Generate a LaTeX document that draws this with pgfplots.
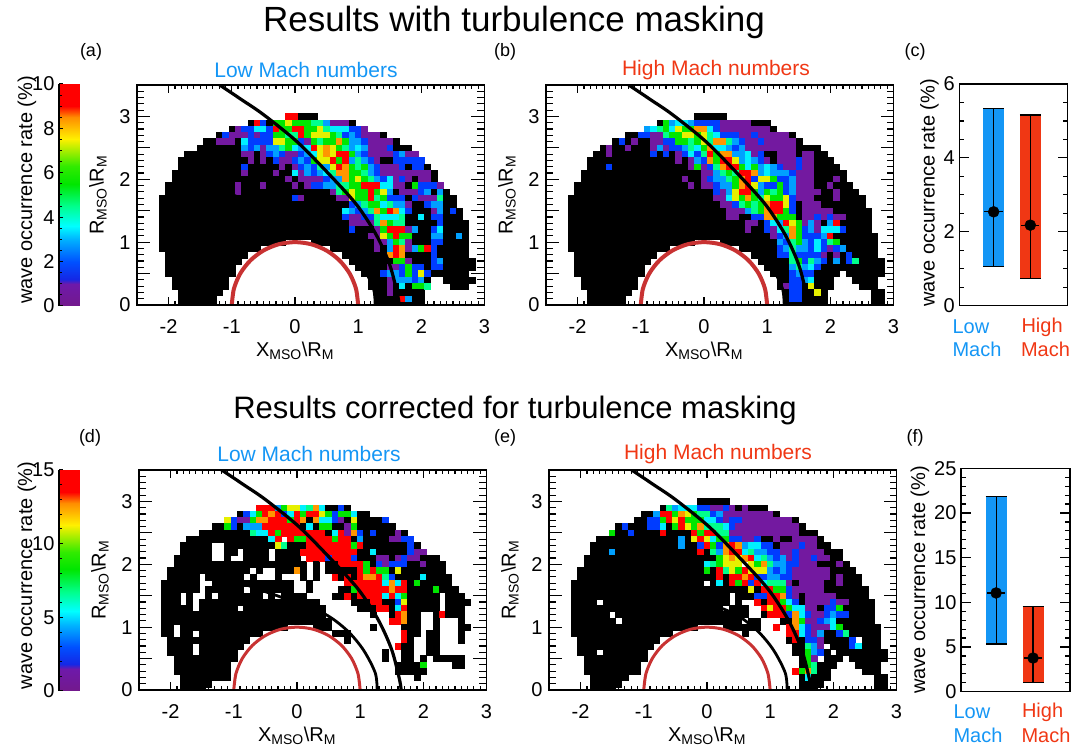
\documentclass[border=0pt]{standalone}
\usepackage{pgfplots}
\pgfplotsset{compat=1.18}
\usepackage{pgfplotstable}
\usepackage{fontspec}
\setmainfont{Liberation Sans}
\definecolor{lowc}{RGB}{20,150,245}
\definecolor{highc}{RGB}{240,55,20}
\definecolor{arcc}{RGB}{200,50,50}
\pgfplotstableread[header=false]{
3.0 nan nan nan nan nan nan nan nan nan nan  nan nan nan nan nan nan nan nan nan nan  nan nan 9 9 0 0 0 nan nan nan  nan nan nan nan nan nan nan nan nan nan  nan nan nan nan nan nan nan nan nan nan  nan nan nan
2.9 nan nan nan nan nan nan nan nan nan nan  nan nan nan nan nan nan 0 9 2 0  6 6 7 6 6 6 5 5 3 1  1 1 0 nan nan nan nan nan nan nan  nan nan nan nan nan nan nan nan nan nan  nan nan nan
2.8 nan nan nan nan nan nan nan nan nan nan  nan nan nan 0 1 2 2 4 4 2  9 6 6 9 9 6 6 7 5 4  4 4 2 2 1 nan nan nan nan nan  nan nan nan nan nan nan nan nan nan nan  nan nan nan
2.7 nan nan nan nan nan nan nan nan nan nan  nan 0 2 1 1 1 2 1 2 2  6 6 5 5 9 6 7 7 7 6  5 2 3 2 1 1 1 0 nan nan  nan nan nan nan nan nan nan nan nan nan  nan nan nan
2.6 nan nan nan nan nan nan nan nan nan 0  0 1 1 1 0 4 2 2 2 2  7 7 6 6 2 1 6 5 6 6  8 6 3 3 2 1 1 1 1 0  nan nan nan nan nan nan nan nan nan nan  nan nan nan
2.5 nan nan nan nan nan nan nan nan 0 0  0 0 0 0 0 3 2 3 1 3  3 5 6 4 3 4 9 7 8 7  6 5 3 4 3 1 1 1 2 0  0 0 nan nan nan nan nan nan nan nan  nan nan nan
2.4 nan nan nan nan nan nan 0 0 0 0  0 0 0 0 0 1 1 0 1 2  3 2 1 1 2 3 4 7 8 7  9 9 6 3 2 1 1 1 1 2  3 1 1 nan nan nan nan nan nan nan  nan nan nan
2.3 nan nan nan nan nan 0 0 0 0 0  0 0 0 0 0 0 1 0 1 0  2 1 1 2 3 2 6 7 7 9  6 9 3 5 3 2 1 0 0 2  2 2 2 2 nan nan nan nan nan nan  nan nan nan
2.2 nan nan nan nan nan 0 0 0 0 0  0 0 0 0 0 2 0 0 0 0  0 1 0 1 2 3 2 5 3 7  9 8 6 5 6 3 2 1 1 1  2 0 2 2 0 nan nan nan nan nan  nan nan nan
2.1 nan nan nan nan 0 0 0 0 0 0  0 0 0 0 0 1 0 0 0 0  1 0 0 4 1 3 2 3 4 5  8 8 6 6 5 3 2 1 1 1  1 1 1 1 1 0 nan nan nan nan  nan nan nan
2.0 nan nan nan nan 0 0 0 0 0 0  0 0 0 0 0 0 0 0 0 0  0 0 1 0 1 1 1 1 2 3  3 8 6 7 6 5 3 2 4 1  2 1 0 1 1 0 nan nan nan nan  nan nan nan
1.9 nan nan nan 0 0 0 0 0 0 0  0 0 0 0 1 0 0 0 1 0  0 0 0 1 0 1 2 2 3 3  5 5 6 6 9 9 9 4 4 1  1 0 6 2 2 2 1 nan nan nan  nan nan nan
1.8 nan nan nan 0 0 0 0 0 0 0  0 0 0 0 1 0 0 0 0 0  0 0 0 0 0 0 0 0 0 1  5 6 7 6 6 9 6 7 3 0  1 1 1 2 3 0 3 0 nan nan  nan nan nan
1.7 nan nan 0 0 0 0 0 0 0 0  0 0 0 0 0 0 0 0 0 0  0 0 0 2 1 0 0 0 0 0  1 1 7 6 6 9 5 6 2 2  2 0 2 1 1 1 5 0 0 nan  nan nan nan
1.6 nan nan 0 0 0 0 0 0 0 0  0 0 0 0 0 0 0 0 0 0  0 0 0 0 0 0 0 0 0 0  0 0 2 3 5 6 6 4 5 3  3 1 0 0 2 3 3 0 0 nan  nan nan nan
1.5 nan nan 0 0 0 0 0 0 0 0  0 0 0 0 0 0 0 0 0 0  0 0 0 0 0 0 0 0 0 0  0 4 3 2 3 5 8 6 9 8  4 2 0 0 0 1 3 0 2 0  nan nan nan
1.4 nan nan 0 0 0 0 0 0 0 0  0 0 0 0 0 0 0 0 0 0  0 0 0 0 0 0 0 0 0 0  0 2 1 1 2 2 5 4 4 4  5 0 0 4 0 2 2 0 0 0  nan nan nan
1.3 nan nan 0 0 0 0 0 0 0 0  0 0 0 0 0 0 0 0 0 0  0 0 0 0 0 0 0 0 0 0  0 0 1 1 1 1 5 8 6 5  5 0 0 0 0 0 2 0 0 0  0 nan nan
1.2 nan nan 0 0 0 0 0 0 0 0  0 0 0 0 0 0 0 0 0 0  0 0 0 0 0 0 0 0 0 0  0 0 2 0 0 0 1 6 9 9  9 1 3 0 0 2 4 0 0 0  0 nan nan
1.1 nan nan 0 0 0 0 0 0 0 0  0 0 0 0 0 0 0 0 0 0  0 0 0 0 0 0 0 0 0 0  0 0 0 0 0 1 1 7 6 9  6 6 0 0 0 3 3 0 0 3  0 nan nan
1.0 nan nan 0 0 0 0 0 0 0 0  0 0 0 0 0 0 0 0 0 0  0 0 nan nan nan nan 0 0 0 0  0 0 0 0 0 0 1 1 3 6  5 1 0 0 0 2 2 0 0 0  0 nan nan
0.9 nan nan 0 0 0 0 0 0 0 0  0 0 0 0 0 0 0 0 nan nan  nan nan nan nan nan nan nan nan nan 0  0 0 0 0 0 0 1 0 3 9  8 1 3 6 9 2 0 0 0 0  0 nan nan
0.8 nan nan nan 0 0 0 0 0 0 0  0 0 0 0 0 0 nan nan nan nan  nan nan nan nan nan nan nan nan nan nan  nan 0 0 0 0 0 0 0 8 9  8 0 0 0 0 2 0 0 0 0  0 nan nan
0.7 nan nan nan 0 0 0 0 0 0 0  0 0 0 0 0 nan nan nan nan nan  nan nan nan nan nan nan nan nan nan nan  nan nan 0 0 0 0 0 0 0 6  6 1 0 0 0 2 3 0 0 0  0 0 nan
0.6 nan nan nan 0 0 0 0 0 0 0  0 0 0 0 nan nan nan nan nan nan  nan nan nan nan nan nan nan nan nan nan  nan nan nan 0 0 0 0 0 1 1  2 6 2 2 0 2 2 0 0 0  0 0 nan
0.5 nan nan nan 0 0 0 0 0 0 0  0 0 0 0 nan nan nan nan nan nan  nan nan nan nan nan nan nan nan nan nan  nan nan nan nan 0 0 0 2 3 3  2 6 2 7 2 0 0 0 0 0  0 nan nan
0.4 nan nan nan nan 0 0 0 0 0 0  0 0 0 nan nan nan nan nan nan nan  nan nan nan nan nan nan nan nan nan nan  nan nan nan nan nan 0 0 0 1 3  3 3 2 3 0 nan nan 0 0 0  0 0 nan
0.3 nan nan nan nan 0 0 0 0 0 0  0 0 0 nan nan nan nan nan nan nan  nan nan nan nan nan nan nan nan nan nan  nan nan nan nan nan 0 0 0 1 0  4 0 6 6 5 nan nan nan 0 0  0 nan nan
0.2 nan nan nan nan nan 0 0 0 0 0  0 0 nan nan nan nan nan nan nan nan  nan nan nan nan nan nan nan nan nan nan  nan nan nan nan nan nan 0 0 1 0  0 0 0 0 nan nan nan nan nan nan  nan nan nan
0.1 nan nan nan nan nan 0 0 0 0 0  0 nan nan nan nan nan nan nan nan nan  nan nan nan nan nan nan nan nan nan nan  nan nan nan nan nan nan 0 0 0 0  9 3 0 0 nan nan nan nan nan nan  nan nan nan
0.0 nan nan nan nan nan 0 0 0 0 0  0 nan nan nan nan nan nan nan nan nan  nan nan nan nan nan nan nan nan nan nan  nan nan nan nan nan nan 0 0 0 0  0 0 0 0 nan nan nan nan nan nan  nan nan nan
}\tblA
\pgfplotstableread[header=false]{
3.0 nan nan nan nan nan nan nan nan nan nan  nan nan nan nan nan nan nan nan nan nan  nan nan 0 0 0 0 0 nan nan nan  nan nan nan nan nan nan nan nan nan nan  nan nan nan nan nan nan nan nan nan nan  nan nan nan
2.9 nan nan nan nan nan nan nan nan nan nan  nan nan nan nan nan nan 0 6 3 4  4 3 2 2 2 2 1 1 1 1  1 0 0 0 nan nan nan nan nan nan  nan nan nan nan nan nan nan nan nan nan  nan nan nan
2.8 nan nan nan nan nan nan nan nan nan nan  nan nan nan nan 3 4 5 6 4 7  6 6 8 8 4 2 1 1 1 1  1 1 1 1 0 nan nan nan nan nan  nan nan nan nan nan nan nan nan nan nan  nan nan nan
2.7 nan nan nan nan nan nan nan nan nan nan  nan 0 0 2 2 1 1 5 6 6  7 7 6 7 5 4 2 2 2 1  1 2 1 1 1 1 1 0 nan nan  nan nan nan nan nan nan nan nan nan nan  nan nan nan
2.6 nan nan nan nan nan nan nan nan nan 0  2 0 1 0 0 1 1 2 2 6  6 5 6 7 5 8 8 5 3 2  1 1 2 1 1 1 1 1 0 nan  nan nan nan nan nan nan nan nan nan nan  nan nan nan
2.5 nan nan nan nan nan nan nan 0 1 0  0 1 0 0 0 1 3 1 2 2  3 5 4 6 8 4 4 3 2 3  1 1 1 1 1 1 1 1 0 0  0 0 nan nan nan nan nan nan nan nan  nan nan nan
2.4 nan nan nan nan nan nan 0 0 1 0  0 0 0 0 0 2 0 2 0 1  2 4 2 5 9 6 8 8 3 3  4 1 2 0 0 1 1 1 0 1  1 0 0 nan nan nan nan nan nan nan  nan nan nan
2.3 nan nan nan nan nan 0 0 0 0 0  0 0 0 0 0 0 0 0 0 1  0 1 3 2 8 6 9 9 7 3  4 3 2 1 0 1 1 1 2 1  1 0 0 0 nan nan nan nan nan nan  nan nan nan
2.2 nan nan nan nan nan 0 0 0 2 0  0 0 0 0 0 0 0 0 0 0  0 1 6 1 2 5 8 9 9 6  4 6 3 4 3 2 1 1 2 1  1 0 0 0 0 nan nan nan nan nan  nan nan nan
2.1 nan nan nan nan 0 0 0 0 0 0  0 0 0 0 0 0 0 0 0 0  0 0 0 1 1 3 5 6 5 9  9 8 3 4 3 3 3 2 1 1  1 0 0 0 0 0 nan nan nan nan  nan nan nan
2.0 nan nan nan nan 0 0 0 0 0 0  0 0 0 0 0 0 0 0 0 0  1 0 0 1 2 3 3 5 6 8  9 2 7 7 6 2 2 3 1 1  1 0 0 0 1 0 nan nan nan nan  nan nan nan
1.9 nan nan nan 0 0 0 0 0 0 0  0 0 0 0 0 0 0 0 0 0  0 1 0 1 1 2 3 3 6 8  9 7 3 2 2 6 2 3 1 1  1 0 0 1 0 0 0 nan nan nan  nan nan nan
1.8 nan nan nan 0 0 0 0 0 0 0  0 0 0 0 0 0 0 0 0 0  0 0 0 0 0 2 1 3 7 9  9 6 3 6 5 6 2 3 1 1  1 1 0 0 1 0 0 0 nan nan  nan nan nan
1.7 nan nan 0 0 0 0 0 0 0 0  0 0 0 0 0 0 0 0 0 0  0 0 0 0 0 1 1 4 7 6  8 6 5 7 6 6 7 2 1 1  1 0 0 0 1 0 0 0 0 nan  nan nan nan
1.6 nan nan 0 0 0 0 0 0 0 0  0 0 0 0 0 0 0 0 0 0  0 0 0 0 0 0 1 1 2 5  6 5 6 8 9 9 7 2 0 1  1 1 0 0 0 0 0 0 0 nan  nan nan nan
1.5 nan nan 0 0 0 0 0 0 0 0  0 0 0 0 0 0 0 0 0 0  0 0 0 0 0 0 0 1 1 1  3 5 6 8 9 9 6 2 0 1  1 1 1 1 0 0 0 0 0 0  nan nan nan
1.4 nan nan 0 0 0 0 0 0 0 0  0 0 0 0 0 0 0 0 0 0  0 0 0 0 0 0 0 1 1 0  0 2 2 8 8 6 6 6 0 1  1 2 1 2 1 1 0 0 0 0  nan nan nan
1.3 nan nan 0 0 0 0 0 0 0 0  0 0 0 0 0 0 0 0 0 0  0 0 0 0 0 0 0 0 0 0  1 1 0 2 4 3 9 7 6 1  3 1 0 3 9 0 0 0 0 0  nan nan nan
1.2 nan nan 0 0 0 0 0 0 0 0  0 0 0 0 0 0 0 0 0 0  0 0 0 0 0 0 0 0 0 0  1 0 0 2 1 4 5 8 6 2  3 1 4 4 4 2 0 0 0 0  nan nan nan
1.1 nan nan 0 0 0 0 0 0 0 0  0 0 0 0 0 0 0 0 0 0  0 0 0 0 0 0 0 0 0 0  0 0 0 0 1 2 3 8 6 2  2 2 3 9 0 0 0 0 0 0  0 nan nan
1.0 nan nan 0 0 0 0 0 0 0 0  0 0 0 0 0 0 0 0 0 0  0 0 nan nan nan nan 0 0 0 0  0 0 0 0 0 3 2 5 6 3  2 4 2 5 6 0 0 0 0 0  0 nan nan
0.9 nan nan 0 0 0 0 0 0 0 0  0 0 0 0 0 0 0 0 nan nan  nan nan nan nan nan nan nan nan nan 0  0 0 0 0 0 2 3 5 3 3  2 4 2 1 2 3 0 0 0 0  0 nan nan
0.8 nan nan nan 0 0 0 0 0 0 0  0 0 0 0 0 0 nan nan nan nan  nan nan nan nan nan nan nan nan nan nan  nan 0 0 0 0 2 2 5 2 2  2 2 1 0 1 0 2 0 0 0  0 nan nan
0.7 nan nan nan 0 0 0 0 0 0 0  0 0 0 0 0 nan nan nan nan nan  nan nan nan nan nan nan nan nan nan nan  nan nan 0 0 0 0 0 5 6 2  5 3 2 0 3 0 2 5 0 0  0 0 nan
0.6 nan nan nan 0 0 0 0 0 0 0  0 0 0 0 nan nan nan nan nan nan  nan nan nan nan nan nan nan nan nan nan  nan nan nan 0 0 0 0 3 5 3  4 2 0 0 0 0 0 0 0 0  0 0 nan
0.5 nan nan nan 0 0 0 0 0 0 0  0 0 0 0 nan nan nan nan nan nan  nan nan nan nan nan nan nan nan nan nan  nan nan nan nan 0 0 0 2 3 2  2 0 0 0 0 nan 0 0 0 0  0 0 nan
0.4 nan nan nan nan 0 0 0 0 0 0  0 0 0 nan nan nan nan nan nan nan  nan nan nan nan nan nan nan nan nan nan  nan nan nan nan nan 0 0 2 2 3  4 0 0 0 nan nan nan 0 0 0  0 nan nan
0.3 nan nan nan nan 0 0 0 0 0 0  0 0 0 nan nan nan nan nan nan nan  nan nan nan nan nan nan nan nan nan nan  nan nan nan nan nan 0 1 2 2 0  7 0 0 0 nan nan nan nan 0 0  0 nan nan
0.2 nan nan nan nan nan 0 0 0 0 0  0 0 nan nan nan nan nan nan nan nan  nan nan nan nan nan nan nan nan nan nan  nan nan nan nan nan nan 0 2 2 0  0 7 0 nan nan nan nan nan nan nan  0 0 nan
0.1 nan nan nan nan nan 0 0 0 0 0  0 nan nan nan nan nan nan nan nan nan  nan nan nan nan nan nan nan nan nan nan  nan nan nan nan nan nan 0 2 2 0  0 0 0 nan nan nan nan nan nan nan  0 0 nan
0.0 nan nan nan nan nan 0 0 0 0 0  0 nan nan nan nan nan nan nan nan nan  nan nan nan nan nan nan nan nan nan nan  nan nan nan nan nan nan 0 0 0 0  0 0 0 nan nan nan nan nan nan nan  0 0 nan
}\tblB
\pgfplotstableread[header=false]{
3.0 nan nan nan nan nan nan nan nan nan nan  nan nan nan nan nan nan nan nan nan nan  nan nan nan nan nan nan nan nan nan nan  nan nan nan nan nan nan nan nan nan nan  nan nan nan nan nan nan nan nan nan nan  nan nan nan
2.9 nan nan nan nan nan nan nan nan nan nan  nan nan nan nan nan nan nan 9 9 9  3 6 7 7 4 5 8 4 0 0  2 0 nan nan nan nan nan nan nan nan  nan nan nan nan nan nan nan nan nan nan  nan nan nan
2.8 nan nan nan nan nan nan nan nan nan nan  nan nan nan nan 0 2 4 6 9 8  9 2 4 9 6 9 9 7 6 2  6 6 4 0 0 nan nan nan nan nan  nan nan nan nan nan nan nan nan nan nan  nan nan nan
2.7 nan nan nan nan nan nan nan nan nan nan  nan nan 7 2 1 1 6 8 8 9  9 9 6 9 8 0 8 4 4 2  1 0 7 0 0 0 0 2 nan nan  nan nan nan nan nan nan nan nan nan nan  nan nan nan
2.6 nan nan nan nan nan nan nan nan nan nan  0 0 6 2 0 3 3 3 9 9  9 9 9 9 0 4 0 6 6 0  0 1 6 0 0 0 0 0 0 nan  nan nan nan nan nan nan nan nan nan nan  nan nan nan
2.5 nan nan nan nan nan nan nan nan 0 0  0 0 0 0 0 0 5 4 4 9  6 9 9 9 9 9 9 9 0 4  9 1 8 2 0 2 0 0 0 1  0 nan nan nan nan nan nan nan nan nan  nan nan nan
2.4 nan nan nan nan nan nan 0 0 0 0  0 0 0 0 0 0 0 0 0 4  9 nan 9 6 6 9 9 9 9 6  9 9 0 3 0 0 0 0 1 1  2 2 nan nan nan nan nan nan nan nan  nan nan nan
2.3 nan nan nan nan nan 0 0 0 0 0  nan nan 0 0 0 0 0 0 0 0  7 5 0 0 0 9 9 9 9 9  9 9 6 9 0 0 0 0 0 0  0 2 0 nan nan nan nan nan nan nan  nan nan nan
2.2 nan nan nan nan nan 0 0 0 0 0  nan nan 0 0 nan 0 0 0 0 nan  0 0 0 0 9 9 9 9 9 9  9 9 9 0 0 4 0 0 0 0  0 2 1 1 nan nan nan nan nan nan  nan nan nan
2.1 nan nan nan nan 0 0 0 0 0 0  nan nan 0 nan nan 0 0 0 0 nan  0 0 0 0 nan 9 9 9 2 9  9 9 2 0 0 0 1 1 0 1  2 1 1 0 0 0 nan nan nan nan  nan nan nan
2.0 nan nan nan nan 0 0 0 0 0 0  0 0 0 0 0 0 0 0 0 0  0 0 0 0 0 nan 0 nan 0 0  9 9 9 9 6 0 2 1 2 2  2 0 0 1 0 0 0 nan nan nan  nan nan nan
1.9 nan nan nan 0 0 0 0 0 0 0  0 0 0 0 0 0 nan 0 nan nan  0 0 0 8 0 nan 0 nan 0 0  0 0 0 9 6 9 6 6 0 7  0 0 0 0 0 0 0 nan nan nan  nan nan nan
1.8 nan nan nan 0 0 0 0 0 nan 0  0 0 0 0 0 nan 0 nan nan nan  0 nan nan nan 0 nan 0 nan nan 9  0 9 0 9 8 8 9 5 2 0  0 0 0 4 0 0 0 0 nan nan  nan nan nan
1.7 nan nan 0 0 0 0 0 0 nan nan  0 0 0 0 0 0 0 0 0 0  0 0 0 nan nan 0 nan nan nan nan  nan 9 9 9 9 9 9 4 8 4  9 0 6 0 0 0 0 0 nan nan  nan nan nan
1.6 nan nan 0 0 0 0 0 0 nan 0  0 0 0 0 0 nan 0 0 0 0  0 0 0 nan nan 0 nan nan nan nan  0 0 6 9 9 9 9 9 8 9  9 0 0 0 0 6 0 0 0 nan  nan nan nan
1.5 nan nan 0 0 0 nan 0 nan nan 0  nan 0 0 0 0 0 0 0 nan 0  nan 0 0 0 0 nan nan nan nan 0  0 9 0 9 9 9 9 4 9 4  6 0 0 0 0 0 nan 0 0 0  nan nan nan
1.4 nan nan 0 0 0 nan 0 nan 0 0  0 0 0 0 0 0 0 0 0 0  0 0 0 0 0 0 0 nan nan nan  nan nan 0 0 0 9 9 0 0 2  7 0 0 0 0 0 nan 0 0 0  0 nan nan
1.3 nan nan 0 0 0 0 0 nan 0 0  0 0 0 0 nan 0 0 0 0 0  0 0 0 0 0 0 0 0 nan nan  nan nan nan 0 0 0 9 9 0 4  9 0 0 0 0 0 nan 0 0 0  nan nan nan
1.2 nan nan 0 0 0 0 0 0 0 0  0 0 0 0 0 0 0 0 0 0  0 0 0 0 0 0 0 0 nan nan  nan nan nan nan nan 0 nan nan 0 9  8 0 0 nan nan 0 9 0 0 0  nan nan nan
1.1 nan nan 0 0 0 0 0 0 0 0  0 0 0 0 0 0 0 0 0 0  0 0 0 0 0 0 0 0 0 nan  nan nan nan nan nan nan nan nan 9 9  8 0 0 nan nan 0 nan nan nan 0  nan nan nan
1.0 nan nan 0 0 nan 0 0 0 0 0  0 0 0 0 0 0 0 0 0 0  0 0 nan nan nan nan 0 0 0 nan  nan nan nan nan nan 0 nan nan nan nan  0 0 0 nan nan 0 nan nan nan 0  0 nan nan
0.9 nan nan 0 0 nan 0 0 nan 0 0  0 0 0 0 0 0 0 0 nan nan  nan nan nan nan nan nan nan nan nan 0  0 0 nan nan nan nan nan nan nan nan  9 0 0 nan 0 0 nan nan nan 0  nan nan nan
0.8 nan nan nan 0 0 0 0 0 0 0  0 0 0 0 0 0 nan nan nan nan  nan nan nan nan nan nan nan nan nan nan  nan 0 nan nan nan nan nan nan nan nan  9 0 nan nan 0 0 nan nan nan 0  nan nan nan
0.7 nan nan nan 0 0 0 0 nan 0 0  0 0 0 0 0 nan nan nan nan nan  nan nan nan nan nan nan nan nan nan nan  nan nan nan nan nan nan nan nan nan 9  0 0 nan nan 0 0 nan nan nan nan  nan nan nan
0.6 nan nan nan 0 0 0 0 nan 0 0  0 0 0 0 nan nan nan nan nan nan  nan nan nan nan nan nan nan nan nan nan  nan nan nan nan nan nan nan 0 nan nan  0 0 nan nan 0 0 nan nan nan nan  nan nan nan
0.5 nan nan nan nan 0 0 0 0 0 0  0 0 0 0 nan nan nan nan nan nan  nan nan nan nan nan nan nan nan nan nan  nan nan nan nan nan nan nan 0 nan nan  0 0 nan 0 nan 0 0 0 0 0  nan nan nan
0.4 nan nan nan nan 0 0 0 0 0 0  0 0 0 nan nan nan nan nan nan nan  nan nan nan nan nan nan nan nan nan nan  nan nan nan nan nan nan nan nan nan 0  0 0 0 6 nan nan nan nan 0 0  nan nan nan
0.3 nan nan nan nan 0 0 0 0 0 0  0 0 0 nan nan nan nan nan nan nan  nan nan nan nan nan nan nan nan nan nan  nan nan nan nan nan nan nan nan nan 0  0 0 0 0 nan nan nan nan nan nan  nan nan nan
0.2 nan nan nan nan nan 0 0 0 0 0  0 0 0 nan nan nan nan nan nan nan  nan nan nan nan nan nan nan nan nan nan  nan nan nan nan nan nan nan nan nan nan  nan nan 0 nan nan nan nan nan nan nan  nan nan nan
0.1 nan nan nan nan nan 0 0 0 0 0  nan nan nan nan nan nan nan nan nan nan  nan nan nan nan nan nan nan nan nan nan  nan nan nan nan nan nan nan nan nan nan  nan nan nan nan nan nan nan nan nan nan  nan nan nan
0.0 nan nan nan nan nan 0 0 0 0 nan  nan nan nan nan nan nan nan nan nan nan  nan nan nan nan nan nan nan nan nan nan  nan nan nan nan nan nan nan nan nan nan  nan nan nan nan nan nan nan nan nan nan  nan nan nan
}\tblD
\pgfplotstableread[header=false]{
3.0 nan nan nan nan nan nan nan nan nan nan  nan nan nan nan nan nan nan nan nan nan  nan nan 0 0 0 0 0 nan nan nan  nan nan nan nan nan nan nan nan nan nan  nan nan nan nan nan nan nan nan nan nan  nan nan nan
2.9 nan nan nan nan nan nan nan nan nan nan  nan nan nan nan nan nan 0 5 3 4  4 4 2 2 1 1 2 1 0 1  0 0 0 nan nan nan nan nan nan nan  nan nan nan nan nan nan nan nan nan nan  nan nan nan
2.8 nan nan nan nan nan nan nan nan nan nan  nan nan nan 0 0 3 9 9 6 8  7 6 5 5 2 3 1 1 1 1  1 1 1 1 0 nan nan nan nan nan  nan nan nan nan nan nan nan nan nan nan  nan nan nan
2.7 nan nan nan nan nan nan nan nan nan nan  nan nan 0 0 2 2 6 9 7 9  6 6 6 4 4 2 1 2 2 1  1 1 1 1 1 1 1 0 nan nan  nan nan nan nan nan nan nan nan nan nan  nan nan nan
2.6 nan nan nan nan nan nan nan nan nan 0  2 0 0 0 2 2 4 0 6 9  7 6 8 5 5 5 4 2 1 1  1 1 1 1 1 1 1 1 0 nan  nan nan nan nan nan nan nan nan nan nan  nan nan nan
2.5 nan nan nan nan nan nan nan nan 6 0  0 2 0 0 0 0 9 0 0 0  0 9 6 9 9 5 5 1 1 1  1 1 1 1 1 1 1 1 0 0  0 nan nan nan nan nan nan nan nan nan  nan nan nan
2.4 nan nan nan nan nan nan 0 0 0 0  0 0 0 0 0 0 0 0 0 3  0 7 9 7 4 6 6 2 2 1  1 2 0 0 1 0 0 1 1 1  1 0 nan nan nan nan nan nan nan nan  nan nan nan
2.3 nan nan nan nan nan 0 0 0 0 0  0 0 0 0 0 0 0 0 0 3  0 0 2 9 6 2 8 9 8 3  4 4 2 2 0 1 1 1 2 1  1 0 0 nan nan nan nan nan nan nan  nan nan nan
2.2 nan nan nan nan nan 0 0 0 3 0  0 0 0 0 0 0 0 0 0 0  0 0 9 0 5 3 8 9 9 4  5 3 3 2 2 1 1 2 1 1  1 1 0 0 0 nan nan nan nan nan  nan nan nan
2.1 nan nan nan nan 0 0 0 0 0 0  0 0 0 0 0 0 0 0 0 0  0 0 0 0 0 6 7 8 7 8  9 4 5 3 2 3 1 2 1 1  2 1 1 0 0 nan nan nan nan nan  nan nan nan
2.0 nan nan nan nan 0 0 0 0 0 0  0 0 0 0 0 0 0 0 0 0  0 0 0 4 5 6 7 7 7 nan  7 6 8 5 3 3 2 2 1 1  1 0 0 0 1 0 nan nan nan nan  nan nan nan
1.9 nan nan nan 0 0 0 0 0 0 0  0 0 0 0 0 0 0 0 0 0  0 0 0 6 0 9 5 7 6 9  7 7 7 3 2 3 2 1 1 1  1 1 1 0 0 0 0 nan nan nan  nan nan nan
1.8 nan nan nan 0 0 0 0 0 0 0  0 0 0 0 0 0 0 0 0 0  0 0 0 0 0 9 0 9 9 8  9 2 2 3 3 2 2 1 1 1  1 1 1 0 1 0 0 0 nan nan  nan nan nan
1.7 nan nan 0 0 0 0 0 0 0 0  0 0 0 0 0 0 0 0 0 0  0 0 0 nan 0 4 0 9 6 9  2 9 4 5 5 5 1 0 1 1  1 1 0 0 1 0 0 0 nan nan  nan nan nan
1.6 nan nan 0 0 0 0 0 0 0 0  0 0 0 0 0 0 0 0 0 0  0 0 0 0 0 0 0 0 0 0  7 0 9 9 6 6 2 1 1 1  1 1 0 0 0 0 0 0 0 nan  nan nan nan
1.5 nan nan 0 0 0 0 0 0 0 0  0 0 0 0 0 0 0 0 0 0  0 0 0 0 0 0 0 nan 0 0  0 2 2 9 9 8 2 1 0 1  1 1 1 1 0 0 0 0 0 nan  nan nan nan
1.4 nan nan 0 0 0 0 nan 0 0 0  0 0 0 0 0 0 0 0 0 0  0 0 0 0 0 0 0 nan 0 nan  nan 9 0 9 9 6 4 2 0 1  1 1 1 2 1 1 0 0 0 0  nan nan nan
1.3 nan nan 0 0 0 0 0 0 0 0  0 0 0 0 0 0 0 0 0 0  0 0 0 0 0 0 nan 0 0 0  nan nan 9 7 9 9 6 4 4 1  1 0 2 2 6 0 0 0 0 0  nan nan nan
1.2 nan nan 0 0 0 0 0 0 nan 0  0 0 0 0 0 0 0 0 0 0  0 0 0 0 0 0 0 0 0 0  nan nan 0 9 9 9 2 8 4 2  1 1 2 3 2 2 0 0 0 0  nan nan nan
1.1 nan nan 0 0 0 0 0 0 0 nan  0 0 0 0 0 0 0 0 0 0  0 0 0 0 0 0 0 0 0 nan  0 0 nan nan nan 0 0 8 6 1  1 2 3 4 0 0 0 0 0 0  nan nan nan
1.0 nan nan 0 0 0 0 0 0 0 0  0 0 0 0 0 0 0 0 0 0  0 0 nan nan nan nan 0 0 0 0  0 0 nan nan 9 nan 9 8 4 2  1 1 1 4 6 0 0 0 0 0  0 nan nan
0.9 nan nan 0 0 0 0 0 0 0 0  0 0 0 0 0 0 0 0 nan nan  nan nan nan nan nan nan nan nan nan 0  nan nan nan nan nan nan 9 9 4 2  1 3 0 0 2 5 0 0 0 0  0 nan nan
0.8 nan nan nan 0 0 0 0 0 0 0  0 0 0 0 0 0 nan nan nan nan  nan nan nan nan nan nan nan nan nan nan  nan nan nan nan nan nan 0 9 0 2  2 1 0 0 0 0 2 nan 0 0  0 nan nan
0.7 nan nan nan 0 0 0 0 0 0 0  0 0 0 0 0 nan nan nan nan nan  nan nan nan nan nan nan nan nan nan nan  nan nan nan nan nan nan nan 0 0 5  3 1 nan 0 0 0 2 4 0 0  0 nan nan
0.6 nan nan nan 0 0 0 nan 0 0 0  0 0 0 0 nan nan nan nan nan nan  nan nan nan nan nan nan nan nan nan nan  nan nan nan nan nan nan nan 0 0 6  3 2 0 nan 0 0 0 0 0 0  0 0 nan
0.5 nan nan nan nan 0 0 0 0 0 0  0 0 0 0 nan nan nan nan nan nan  nan nan nan nan nan nan nan nan nan nan  nan nan nan nan nan nan nan nan 0 6  1 nan 0 0 0 nan 0 0 0 0  0 0 nan
0.4 nan nan nan nan 0 0 0 0 0 0  0 0 0 nan nan nan nan nan nan nan  nan nan nan nan nan nan nan nan nan nan  nan nan nan nan nan nan nan nan 0 6  5 0 0 0 nan nan nan 0 0 0  0 nan nan
0.3 nan nan nan nan 0 0 0 0 0 0  0 0 0 nan nan nan nan nan nan nan  nan nan nan nan nan nan nan nan nan nan  nan nan nan nan nan nan nan 9 6 8  5 0 0 nan nan nan nan nan 0 0  0 nan nan
0.2 nan nan nan nan nan 0 0 0 0 0  0 nan nan nan nan nan nan nan nan nan  nan nan nan nan nan nan nan nan nan nan  nan nan nan nan nan nan nan nan 0 4  0 0 0 nan nan nan nan nan nan nan  0 0 nan
0.1 nan nan nan nan nan 0 0 0 0 0  nan nan nan nan nan nan nan nan nan nan  nan nan nan nan nan nan nan nan nan nan  nan nan nan nan nan nan nan nan 0 0  0 0 nan nan nan nan nan nan nan nan  0 0 nan
0.0 nan nan nan nan nan 0 0 0 0 nan  nan nan nan nan nan nan nan nan nan nan  nan nan nan nan nan nan nan nan nan nan  nan nan nan nan nan nan nan nan 0 0  0 nan nan nan nan nan nan nan nan nan  0 0 nan
}\tblE
\pgfplotstableread{
x y z
0 0 0
1 0 0
0 1 1
1 1 1
0 1.2 1.2
1 1.2 1.2
0 2 2
1 2 2
0 3 3
1 3 3
0 3.6 3.6
1 3.6 3.6
0 4.5 4.5
1 4.5 4.5
0 5.5 5.5
1 5.5 5.5
0 6.3 6.3
1 6.3 6.3
0 7.5 7.5
1 7.5 7.5
0 8.5 8.5
1 8.5 8.5
0 9 9
1 9 9
0 10 10
1 10 10
}\tblBar
\pgfplotsset{
 cellmap/.style={colormap={cells}{rgb255(0pt)=(0,0,0) rgb255(1pt)=(115,25,160) rgb255(2pt)=(0,60,255) rgb255(3pt)=(0,160,255) rgb255(4pt)=(0,240,255) rgb255(5pt)=(0,255,140) rgb255(6pt)=(0,230,0) rgb255(7pt)=(230,240,0) rgb255(8pt)=(255,150,0) rgb255(9pt)=(255,0,0)}},
 barmap/.style={colormap={bar}{rgb255(0pt)=(115,25,140) rgb255(10pt)=(110,25,170) rgb255(12pt)=(20,40,230) rgb255(20pt)=(0,80,255) rgb255(30pt)=(0,180,255) rgb255(36pt)=(0,255,255) rgb255(45pt)=(0,255,140) rgb255(55pt)=(0,230,0) rgb255(63pt)=(50,235,0) rgb255(75pt)=(255,240,0) rgb255(85pt)=(255,140,0) rgb255(90pt)=(255,0,0) rgb255(100pt)=(255,0,0)}},
 frame/.style={scale only axis, width=347.5pt, height=220pt, xmin=-2.5, xmax=3, ymin=0, ymax=3.5, anchor=south west,
   axis line style={line width=1.6pt}, tick style={line width=1.2pt,black}, tick align=inside,
   tick label style={font=\fontsize{20}{24}\selectfont}, xticklabel style={yshift=-11pt}, yticklabel style={xshift=-3pt}},
 barframe/.style={scale only axis, anchor=south west, axis line style={line width=1.2pt}, tick style={line width=1.2pt,black}, tick align=inside, xtick=\empty,
   /pgf/number format/assume math mode=true, tick label style={font=\fontsize{20}{24}\selectfont}, yticklabel style={xshift=-1pt}, major tick length=10pt, minor tick length=5pt},
 cbar/.style={barmap, scale only axis, width=20pt, anchor=south west, xmin=0,xmax=1, view={0}{90}, axis x line=none, axis y line*=left, axis line style={line width=1.2pt}, tick style={line width=1pt,black}, tick align=inside, major tick length=4pt, minor tick length=2.5pt, point meta min=0, point meta max=10, tick label style={font=\fontsize{20}{24}\selectfont}, /pgf/number format/assume math mode=true, yticklabel style={xshift=-1pt}},
}
\newcommand{\fs}[1]{\fontsize{#1}{#1}\selectfont}
\newcommand{\panel}[4]{% left, bottom (px from top), table, arc width
 \begin{axis}[frame, cellmap, at={(#1pt,{(749-#2)*1pt})}, point meta min=0, point meta max=9,
   xtick={-2,-1,0,1,2,3}, xticklabels={-2,-1,0,1,2,3}, minor x tick num=9, major tick length=8pt, minor tick length=4pt, ytick=\empty,
   clip marker paths=true, unbounded coords=discard]
 \pgfplotsinvokeforeach{1,...,53}{
  \addplot[scatter, only marks, mark=square*, mark size=3pt, scatter/use mapped color={draw=mapped color,fill=mapped color}, point meta=explicit, forget plot]
   table[x expr={-2.4+0.1*##1}, y expr={\thisrowno{##1}*0+\thisrowno{0}}, meta index=##1]{#3};
 }
 \addplot[arcc, line width=#4pt, smooth] coordinates {(-1,0)(-0.966,0.259)(-0.866,0.5)(-0.707,0.707)(-0.5,0.866)(-0.259,0.966)(0,1)(0.259,0.966)(0.5,0.866)(0.707,0.707)(0.866,0.5)(0.966,0.259)(1,0)};
 \addplot[black, line width=3.2pt, smooth] coordinates {(-1.22,3.52)(-0.85,3.27)(-0.5,3.03)(0.03,2.6)(0.55,2.07)(0.98,1.59)(1.29,1.11)(1.5,0.64)(1.625,0.16)(1.65,-0.02)};
 \addplot[black, line width=2.8pt, smooth] coordinates {(-1.6,2.08)(-1.32,1.91)(-0.79,1.67)(-0.26,1.48)(0.42,1.22)(0.79,0.95)(1.05,0.64)(1.24,0.27)(1.27,-0.02)};
 \end{axis}
 \begin{axis}[frame, at={(#1pt,{(749-#2)*1pt})}, xtick=\empty, ytick={0,0.5,...,3.5}, yticklabels={0,,1,,2,,3,}, minor y tick num=4, major tick length=13pt, minor tick length=7pt]
 \end{axis}
 \node[rotate=90,font=\fs{20}] at ({(#1-39)*1pt},{(749-#2+110)*1pt}) {R\textsubscript{MSO}\textbackslash R\textsubscript{M}};
 \node[font=\fs{20}] at ({(#1+158)*1pt},{(749-#2-46)*1pt}) {X\textsubscript{MSO}\textbackslash R\textsubscript{M}};
}
\begin{document}
\begin{tikzpicture}[x=1pt,y=1pt]
\path[use as bounding box] (0,0) rectangle (1084,749);
\panel{137}{305}{\tblA}{4}
\panel{546}{305}{\tblB}{4}
\panel{139}{690}{\tblD}{3}
\panel{549}{690}{\tblE}{3}
\node[font=\fs{35}] at (514,727) {Results with turbulence masking};
\node[font=\fs{31}] at (515,339) {Results corrected for turbulence masking};
\foreach \t/\x/\y in {(a)/91/697,(b)/505/697,(c)/915/697,(d)/90/311,(e)/505/311,(f)/915/311} \node[font=\fs{18}] at (\x,\y) {\t};
\node[font=\fs{21},text=lowc] at (306,679) {Low Mach numbers};
\node[font=\fs{21},text=highc] at (716,679) {High Mach numbers};
\node[font=\fs{21},text=lowc] at (309,295) {Low Mach numbers};
\node[font=\fs{21},text=highc] at (718,295) {High Mach numbers};
% colour bars
\begin{axis}[cbar, height=222pt, at={(59pt,443pt)}, ymin=0,ymax=10, ytick={0,2,...,10}, minor y tick num=3, ylabel={wave occurrence rate (\%)}, ylabel style={font=\fontsize{20}{24}\selectfont, yshift=-11pt, xshift=5pt}]
\addplot3[surf, shader=interp, mesh/cols=2, point meta=\thisrow{z}] table {\tblBar};
\end{axis}
\begin{axis}[cbar, height=221pt, at={(59pt,58pt)}, ymin=0,ymax=15, ytick={0,5,10,15}, minor y tick num=4, ylabel={wave occurrence rate (\%)}, ylabel style={font=\fontsize{20}{24}\selectfont, yshift=-11pt, xshift=5pt}]
\addplot3[surf, shader=interp, mesh/cols=2, point meta=\thisrow{z}] table[y expr={\thisrow{y}*1.5}] {\tblBar};
\end{axis}
% panel (c)
\begin{axis}[barframe, width=108.4pt, height=221.7pt, at={(959.3pt,443.3pt)}, xmin=0.063, xmax=3.02, ymin=0, ymax=6, ytick={0,2,4,6}, minor y tick num=3, ylabel={wave occurrence rate (\%)}, ylabel style={font=\fontsize{20}{24}\selectfont, yshift=-2pt, xshift=2pt}]
\addplot[lowc, line width=21pt] coordinates {(1,1.06)(1,5.34)};
\addplot[highc, line width=21pt] coordinates {(2,0.73)(2,5.16)};
\addplot[only marks, mark=*, mark size=5.5pt, black, error bars/.cd, y dir=both, y explicit, error bar style={line width=1.2pt,black}, error mark options={black, mark size=10.5pt, line width=1.2pt, rotate=90}] table[x=x,y=y,y error plus=p,y error minus=m] {
x y p m
1 2.54 2.80 1.48
2 2.18 2.98 1.45
};
\addplot[draw=none, mark=none, error bars/.cd, x dir=both, x fixed=0.25, error mark=none, error bar style={line width=1.2pt,black}] coordinates {(1,2.54)(2,2.18)};
\end{axis}
% panel (f)
\begin{axis}[barframe, width=109pt, height=223.4pt, at={(961pt,57.3pt)}, xmin=0.05, xmax=3.0, ymin=0, ymax=25, ytick={0,5,...,25}, minor y tick num=4, ylabel={wave occurrence rate (\%)}, ylabel style={font=\fontsize{20}{24}\selectfont, yshift=-2pt}]
\addplot[lowc, line width=21pt] coordinates {(1,5.33)(1,21.8)};
\addplot[highc, line width=21pt] coordinates {(2,1.0)(2,9.5)};
\addplot[only marks, mark=*, mark size=5.5pt, black, error bars/.cd, y dir=both, y explicit, error bar style={line width=1.2pt,black}, error mark options={black, mark size=10.5pt, line width=1.2pt, rotate=90}] table[x=x,y=y,y error plus=p,y error minus=m] {
x y p m
1 11.05 10.75 5.72
2 3.77 5.73 2.77
};
\addplot[draw=none, mark=none, error bars/.cd, x dir=both, x fixed=0.25, error mark=none, error bar style={line width=1.2pt,black}] coordinates {(1,11.05)(2,3.77)};
\end{axis}
\node[anchor=west,font=\fs{20},text=lowc] at (949,422) {Low};
\node[anchor=west,font=\fs{20},text=highc] at (1018,422) {High};
\node[anchor=west,font=\fs{20},text=lowc] at (949,400) {Mach};
\node[anchor=west,font=\fs{20},text=highc] at (1017.5,400) {Mach};
\node[anchor=west,font=\fs{20},text=lowc] at (950,37) {Low};
\node[anchor=west,font=\fs{20},text=highc] at (1018.5,37) {High};
\node[anchor=west,font=\fs{20},text=lowc] at (950,14) {Mach};
\node[anchor=west,font=\fs{20},text=highc] at (1018,14) {Mach};
\end{tikzpicture}
\end{document}
